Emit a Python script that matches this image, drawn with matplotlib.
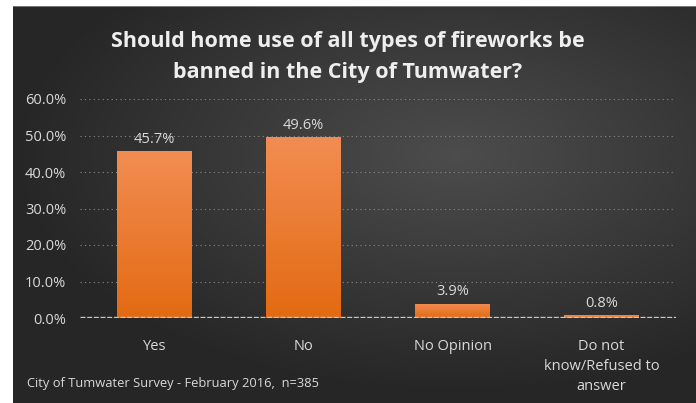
import numpy as np
import matplotlib
matplotlib.use('Agg')
import matplotlib.pyplot as plt

categories = ['Yes', 'No', 'No Opinion', 'Do not\nknow/Refused to\nanswer']
values = [45.7, 49.6, 3.9, 0.8]
yticks = [0, 10, 20, 30, 40, 50, 60]

title = 'Should home use of all types of fireworks be\nbanned in the City of Tumwater?'
footnote = 'City of Tumwater Survey - February 2016,  n=385'

plt.rcParams['font.family'] = ['Open Sans', 'DejaVu Sans']
text_col = '#d9d9d9'

fig = plt.figure(figsize=(6.96, 4.03), dpi=100)
fig.patch.set_facecolor('white')

# dark panel with a soft radial-ish gradient
bg = fig.add_axes([13 / 696, 0, 1 - 13 / 696, 1 - 6 / 403])
bg.set_axis_off()
xx, yy = np.meshgrid(np.linspace(-1, 1, 300), np.linspace(-1, 1, 200))
r = np.sqrt(((xx - 0.3) / 1.3) ** 2 + ((yy - 0.25) / 1.2) ** 2)
shade = np.clip(1 - r, 0, 1)
img = np.zeros(shade.shape + (3,))
lo, hi = 0.15, 0.30
for i in range(3):
    img[..., i] = lo + (hi - lo) * shade
bg.imshow(img, aspect='auto', extent=[0, 1, 0, 1], origin='lower')
bg.set_xlim(0, 1)
bg.set_ylim(0, 1)
bg.axhline(1, color='#888888', lw=1.2)

ax = fig.add_axes([80 / 696, 1 - 318 / 403, 596 / 696, (318 - 99) / 403])
ax.patch.set_alpha(0)
x = np.arange(len(categories))
bars = ax.bar(x, values, width=0.5, color='#ec7a2e', zorder=3)

# vertical orange gradient inside each bar
grad = np.linspace(0, 1, 100).reshape(-1, 1)
cmap = matplotlib.colors.LinearSegmentedColormap.from_list('org', ['#e36a12', '#f28d52'])
for b in bars:
    x0, w, h = b.get_x(), b.get_width(), b.get_height()
    im = ax.imshow(grad, extent=[x0, x0 + w, 0, h], origin='lower', cmap=cmap,
                   aspect='auto', zorder=3)
    im.set_clip_path(b)

for xi, v in zip(x, values):
    ax.text(xi, v + 1.2, f'{v:.1f}%', ha='center', va='bottom', color=text_col,
            fontsize=10.5, zorder=4)

ax.set_xlim(-0.5, len(categories) - 0.5)
ax.set_ylim(0, 60)
ax.set_yticks(yticks)
ax.set_yticklabels([f'{t:.1f}%' for t in yticks], color=text_col, fontsize=10.5)
ax.set_xticks(x)
ax.set_xticklabels(categories, color=text_col, fontsize=10.5, linespacing=1.45)
ax.tick_params(axis='y', length=0, pad=10)
ax.tick_params(axis='x', length=0, pad=15)
for s in ax.spines.values():
    s.set_visible(False)
ax.grid(axis='y', color='#8a8a8a', linestyle=(0, (1, 3)), lw=0.8, zorder=1)
ax.axhline(0, color='#c8c8c8', lw=2.4, linestyle=(0, (1.5, 0.5)), zorder=5)

fig.text(0.5, 1 - 57 / 403, title, ha='center', va='center', color='#eeeeee',
         fontsize=15.5, fontweight='bold', linespacing=1.6)
fig.text(27 / 696, 1 - 383 / 403, footnote, ha='left', va='center', color=text_col,
         fontsize=9.3)

fig.savefig('out.png', dpi=100, facecolor='white')
